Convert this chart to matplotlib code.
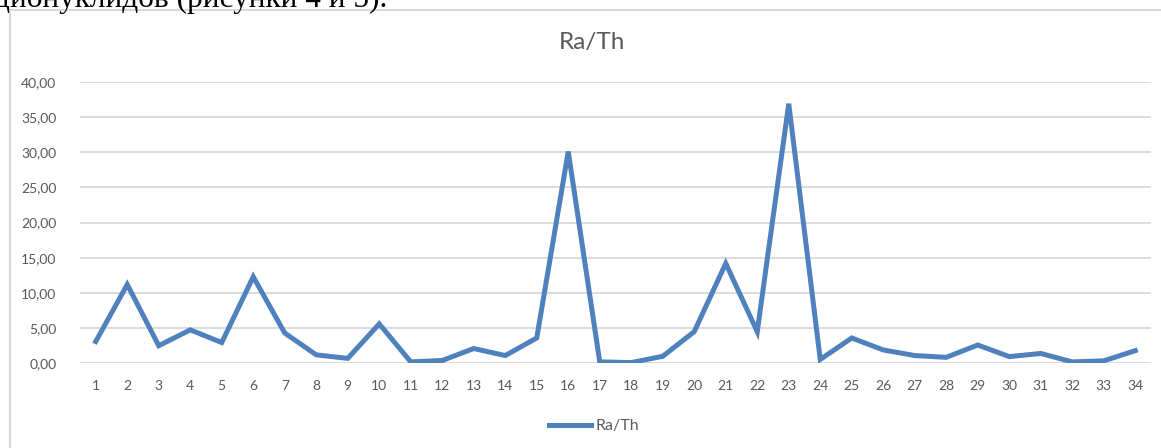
import matplotlib.pyplot as plt
from matplotlib.patches import Rectangle

# номера проб и отношение Ra/Th
samples = list(range(1, 35))
ra_th = [3.1, 11.2, 2.5, 4.75, 2.95, 12.3, 4.3, 1.2, 0.7, 5.6,
         0.2, 0.4, 2.1, 1.1, 3.6, 30.1, 0.2, 0.1, 1.0, 4.5,
         14.2, 4.5, 36.9, 0.55, 3.6, 1.9, 1.1, 0.85, 2.6, 0.95,
         1.4, 0.2, 0.35, 1.8]
y_ticks = [0, 5, 10, 15, 20, 25, 30, 35, 40]

W, H = 1161, 448
plt.rcParams['font.family'] = ['Lato', 'DejaVu Sans']

fig = plt.figure(figsize=(W / 100, H / 100), dpi=100)

# обрезанная строка текста над диаграммой
fig.text(-6 / W, 1 - 7 / H, 'дионуклидов (рисунки 4 и 5).', ha='left', va='baseline',
         fontsize=22.5, family='Liberation Serif', color='black')

# рамка области диаграммы
fig.patches.append(Rectangle((10 / W, -0.1), 1.2, 1 - 10 / H + 0.1, transform=fig.transFigure,
                             fill=False, edgecolor='#d9d9d9', linewidth=1.5))

ax = fig.add_axes([80 / W, 84.7 / H, 1071 / W, 281.4 / H])
ax.plot(samples, ra_th, color='#4f81bd', linewidth=3.6, solid_joinstyle='miter', label='Ra/Th')

ax.set_xlim(0.5, 34.5)
ax.set_ylim(0, 40)
ax.set_xticks(samples)
ax.set_xticklabels([str(s) for s in samples])
ax.set_yticks(y_ticks)
ax.set_yticklabels([f'{v:.2f}'.replace('.', ',') for v in y_ticks])
ax.grid(axis='y', color='#d9d9d9', linewidth=1.3)
ax.set_axisbelow(True)
for s in ax.spines.values():
    s.set_visible(False)
ax.tick_params(length=0, colors='#595959', labelsize=10)
ax.tick_params(axis='y', pad=17)
ax.tick_params(axis='x', pad=12)

fig.text(592 / W, 1 - 43 / H, 'Ra/Th', ha='center', va='center', fontsize=17.5, color='#595959')

fig.legend(loc='center', bbox_to_anchor=(594 / W, 1 - 426 / H), frameon=False, fontsize=11.5,
           labelcolor='#595959', handlelength=2.6, handletextpad=0.3)

fig.savefig('out.png', dpi=100)
